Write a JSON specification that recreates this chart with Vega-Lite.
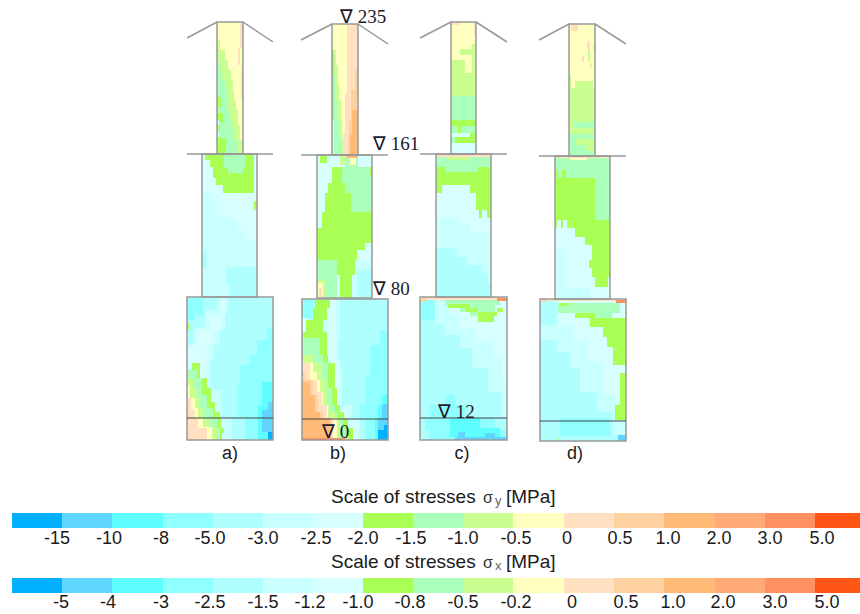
{"$schema":"https://vega.github.io/schema/vega-lite/v6.json","width":860,"height":614,"padding":0,"autosize":{"type":"none"},"background":"white","config":{"view":{"stroke":null}},
"datasets":{
"cells":[
{"x":217,"x2":243,"y":22,"y2":154,"k":11},
{"x":240,"x2":243,"y":22,"y2":48,"k":12},{"x":238,"x2":240,"y":48,"y2":65,"k":12},{"x":241,"x2":243,"y":65,"y2":100,"k":12},
{"x":217,"x2":220,"y":40,"y2":50,"k":10},{"x":217,"x2":225,"y":50,"y2":60,"k":10},{"x":217,"x2":228,"y":60,"y2":70,"k":10},{"x":217,"x2":231,"y":70,"y2":80,"k":10},{"x":217,"x2":233,"y":80,"y2":90,"k":10},{"x":217,"x2":234,"y":90,"y2":100,"k":10},{"x":217,"x2":236,"y":100,"y2":110,"k":10},{"x":217,"x2":238,"y":110,"y2":125,"k":10},{"x":217,"x2":240,"y":125,"y2":140,"k":10},{"x":217,"x2":243,"y":140,"y2":154,"k":10},
{"x":217,"x2":219,"y":60,"y2":70,"k":9},{"x":217,"x2":222,"y":70,"y2":80,"k":9},{"x":217,"x2":225,"y":80,"y2":90,"k":9},{"x":217,"x2":227,"y":90,"y2":100,"k":9},{"x":217,"x2":228,"y":100,"y2":110,"k":9},{"x":217,"x2":230,"y":110,"y2":120,"k":9},{"x":217,"x2":232,"y":120,"y2":130,"k":9},{"x":217,"x2":234,"y":130,"y2":140,"k":9},{"x":217,"x2":238,"y":140,"y2":154,"k":9},
{"x":217,"x2":221,"y":97,"y2":107,"k":8},{"x":217,"x2":223,"y":113,"y2":122,"k":8},{"x":217,"x2":220,"y":125,"y2":130,"k":8},{"x":217,"x2":226,"y":138,"y2":154,"k":8},{"x":217,"x2":219,"y":120,"y2":125,"k":7},{"x":217,"x2":219,"y":133,"y2":136,"k":7},
{"x":332,"x2":347,"y":24,"y2":155,"k":11},{"x":347,"x2":358,"y":24,"y2":155,"k":12},{"x":345,"x2":347,"y":93,"y2":155,"k":12},{"x":343,"x2":345,"y":133,"y2":155,"k":12},
{"x":355,"x2":358,"y":70,"y2":90,"k":13},{"x":351,"x2":358,"y":90,"y2":120,"k":13},{"x":349,"x2":358,"y":120,"y2":155,"k":13},{"x":352,"x2":358,"y":110,"y2":135,"k":14},{"x":350,"x2":357,"y":135,"y2":155,"k":14},
{"x":332,"x2":336,"y":50,"y2":65,"k":10},{"x":332,"x2":338,"y":65,"y2":85,"k":10},{"x":332,"x2":339,"y":85,"y2":100,"k":10},{"x":332,"x2":341,"y":100,"y2":120,"k":10},{"x":332,"x2":342,"y":120,"y2":140,"k":10},{"x":332,"x2":343,"y":140,"y2":155,"k":10},
{"x":332,"x2":336,"y":75,"y2":100,"k":9},{"x":332,"x2":337,"y":100,"y2":120,"k":9},{"x":332,"x2":339,"y":120,"y2":135,"k":9},{"x":332,"x2":341,"y":135,"y2":155,"k":9},
{"x":332,"x2":334,"y":50,"y2":118,"k":8},{"x":332,"x2":334,"y":120,"y2":155,"k":6},
{"x":451,"x2":476,"y":22,"y2":154,"k":11},{"x":451,"x2":460,"y":22,"y2":25,"k":12},{"x":474,"x2":476,"y":22,"y2":35,"k":12},
{"x":460,"x2":472,"y":49,"y2":55,"k":10},{"x":472,"x2":476,"y":44,"y2":49,"k":10},{"x":472,"x2":476,"y":49,"y2":73,"k":10},{"x":451,"x2":465,"y":60,"y2":73,"k":10},{"x":451,"x2":476,"y":73,"y2":96,"k":10},
{"x":451,"x2":476,"y":96,"y2":120,"k":9},{"x":451,"x2":476,"y":120,"y2":126,"k":8},{"x":451,"x2":476,"y":126,"y2":133,"k":9},{"x":458,"x2":461,"y":126,"y2":133,"k":8},{"x":451,"x2":476,"y":133,"y2":137,"k":7},{"x":470,"x2":476,"y":133,"y2":137,"k":8},{"x":451,"x2":455,"y":137,"y2":143,"k":9},{"x":455,"x2":476,"y":137,"y2":143,"k":8},{"x":451,"x2":476,"y":143,"y2":154,"k":7},
{"x":569,"x2":595,"y":24,"y2":156,"k":11},{"x":571,"x2":578,"y":25,"y2":31,"k":12},{"x":587,"x2":590,"y":41,"y2":50,"k":12},{"x":582,"x2":584,"y":56,"y2":62,"k":12},{"x":590,"x2":592,"y":63,"y2":68,"k":12},{"x":588,"x2":590,"y":50,"y2":62,"k":10},{"x":593,"x2":595,"y":45,"y2":50,"k":10},
{"x":575,"x2":593,"y":81,"y2":88,"k":10},{"x":569,"x2":571,"y":75,"y2":88,"k":10},{"x":569,"x2":595,"y":88,"y2":156,"k":10},
{"x":574,"x2":595,"y":122,"y2":128,"k":9},{"x":570,"x2":595,"y":134,"y2":139,"k":9},{"x":570,"x2":575,"y":139,"y2":146,"k":9},{"x":570,"x2":585,"y":145,"y2":151,"k":9},{"x":570,"x2":595,"y":151,"y2":156,"k":9},

{"x":202,"x2":257,"y":154,"y2":297,"k":6},
{"x":202,"x2":213,"y":154,"y2":193,"k":7},{"x":213,"x2":217,"y":154,"y2":200,"k":7},{"x":217,"x2":230,"y":154,"y2":216,"k":7},{"x":230,"x2":237,"y":154,"y2":220,"k":7},{"x":237,"x2":245,"y":154,"y2":230,"k":7},{"x":245,"x2":257,"y":154,"y2":240,"k":7},
{"x":226,"x2":257,"y":267,"y2":284,"k":5},{"x":230,"x2":257,"y":284,"y2":297,"k":5},{"x":202,"x2":207,"y":250,"y2":267,"k":5},
{"x":205,"x2":254,"y":154,"y2":160,"k":8},{"x":210,"x2":254,"y":160,"y2":167,"k":8},{"x":213,"x2":254,"y":167,"y2":178,"k":8},{"x":216,"x2":254,"y":178,"y2":185,"k":8},{"x":223,"x2":254,"y":185,"y2":193,"k":8},{"x":224,"x2":245,"y":154,"y2":168,"k":9},{"x":228,"x2":243,"y":168,"y2":173,"k":9},{"x":254,"x2":257,"y":201,"y2":210,"k":8},

{"x":317,"x2":372,"y":155,"y2":298,"k":7},
{"x":352,"x2":372,"y":260,"y2":298,"k":6},{"x":357,"x2":372,"y":270,"y2":298,"k":5},
{"x":342,"x2":372,"y":167,"y2":212,"k":9},{"x":345,"x2":358,"y":155,"y2":167,"k":9},{"x":340,"x2":345,"y":155,"y2":165,"k":10},{"x":346,"x2":358,"y":155,"y2":158,"k":14},{"x":350,"x2":356,"y":158,"y2":165,"k":11},{"x":370,"x2":372,"y":167,"y2":175,"k":8},{"x":320,"x2":327,"y":156,"y2":163,"k":8},
{"x":332,"x2":342,"y":167,"y2":183,"k":8},{"x":328,"x2":345,"y":183,"y2":193,"k":8},{"x":325,"x2":351,"y":193,"y2":212,"k":8},{"x":322,"x2":372,"y":212,"y2":228,"k":8},{"x":317,"x2":372,"y":228,"y2":243,"k":8},{"x":317,"x2":365,"y":243,"y2":250,"k":8},{"x":317,"x2":357,"y":250,"y2":260,"k":8},{"x":337,"x2":355,"y":260,"y2":275,"k":8},{"x":340,"x2":352,"y":275,"y2":298,"k":8},
{"x":317,"x2":337,"y":260,"y2":298,"k":9},{"x":317,"x2":325,"y":280,"y2":298,"k":10},{"x":318,"x2":323,"y":283,"y2":298,"k":11},{"x":319,"x2":322,"y":288,"y2":298,"k":12},

{"x":436,"x2":491,"y":154,"y2":297,"k":5},
{"x":436,"x2":455,"y":185,"y2":248,"k":6},{"x":455,"x2":457,"y":185,"y2":250,"k":6},{"x":457,"x2":467,"y":185,"y2":257,"k":6},{"x":467,"x2":482,"y":185,"y2":265,"k":6},{"x":482,"x2":488,"y":185,"y2":273,"k":6},{"x":488,"x2":491,"y":185,"y2":283,"k":6},
{"x":436,"x2":460,"y":185,"y2":218,"k":7},{"x":460,"x2":470,"y":185,"y2":225,"k":7},{"x":470,"x2":491,"y":185,"y2":233,"k":7},
{"x":436,"x2":491,"y":167,"y2":185,"k":8},{"x":436,"x2":442,"y":185,"y2":193,"k":8},{"x":470,"x2":491,"y":185,"y2":193,"k":8},{"x":476,"x2":491,"y":193,"y2":210,"k":8},{"x":479,"x2":482,"y":210,"y2":218,"k":8},{"x":487,"x2":491,"y":210,"y2":218,"k":8},
{"x":437,"x2":490,"y":157,"y2":167,"k":9},{"x":445,"x2":478,"y":167,"y2":172,"k":9},{"x":447,"x2":470,"y":156,"y2":160,"k":10},{"x":436,"x2":491,"y":154,"y2":157,"k":12},

{"x":555,"x2":610,"y":156,"y2":299,"k":7},
{"x":557,"x2":565,"y":250,"y2":298,"k":6},{"x":560,"x2":590,"y":288,"y2":299,"k":6},
{"x":556,"x2":610,"y":158,"y2":178,"k":9},{"x":595,"x2":610,"y":178,"y2":220,"k":9},
{"x":556,"x2":558,"y":170,"y2":178,"k":8},{"x":562,"x2":566,"y":170,"y2":178,"k":8},{"x":566,"x2":585,"y":178,"y2":179,"k":8},
{"x":556,"x2":595,"y":178,"y2":220,"k":8},{"x":556,"x2":610,"y":220,"y2":228,"k":8},{"x":575,"x2":610,"y":228,"y2":237,"k":8},{"x":585,"x2":610,"y":237,"y2":245,"k":8},{"x":592,"x2":610,"y":245,"y2":260,"k":8},{"x":589,"x2":610,"y":260,"y2":268,"k":8},{"x":592,"x2":610,"y":268,"y2":277,"k":8},{"x":595,"x2":608,"y":277,"y2":287,"k":8},
{"x":557,"x2":561,"y":220,"y2":228,"k":7},{"x":563,"x2":567,"y":220,"y2":228,"k":7},
{"x":555,"x2":610,"y":156,"y2":158,"k":12},{"x":570,"x2":587,"y":158,"y2":160,"k":11},

{"x":187,"x2":273,"y":297,"y2":440,"k":5},
{"x":187,"x2":203,"y":297,"y2":315,"k":4},{"x":187,"x2":195,"y":315,"y2":320,"k":4},
{"x":218,"x2":228,"y":297,"y2":310,"k":6},{"x":205,"x2":225,"y":310,"y2":328,"k":6},{"x":194,"x2":220,"y":328,"y2":345,"k":6},{"x":188,"x2":214,"y":345,"y2":360,"k":6},{"x":187,"x2":210,"y":360,"y2":390,"k":6},{"x":205,"x2":222,"y":390,"y2":418,"k":6},{"x":215,"x2":232,"y":418,"y2":440,"k":6},
{"x":222,"x2":226,"y":297,"y2":315,"k":7},{"x":210,"x2":222,"y":315,"y2":330,"k":7},{"x":197,"x2":213,"y":330,"y2":345,"k":7},{"x":188,"x2":207,"y":345,"y2":365,"k":7},{"x":197,"x2":205,"y":365,"y2":395,"k":7},{"x":187,"x2":189,"y":323,"y2":330,"k":8},
{"x":267,"x2":273,"y":328,"y2":340,"k":4},{"x":257,"x2":273,"y":340,"y2":355,"k":4},{"x":250,"x2":273,"y":355,"y2":365,"k":4},{"x":240,"x2":273,"y":365,"y2":385,"k":4},{"x":238,"x2":273,"y":385,"y2":418,"k":4},{"x":245,"x2":273,"y":418,"y2":440,"k":4},
{"x":262,"x2":273,"y":382,"y2":405,"k":3},{"x":258,"x2":273,"y":405,"y2":440,"k":3},{"x":268,"x2":273,"y":402,"y2":410,"k":2},{"x":262,"x2":273,"y":410,"y2":432,"k":2},{"x":268,"x2":273,"y":432,"y2":440,"k":1},
{"x":192,"x2":200,"y":363,"y2":378,"k":8},{"x":187,"x2":207,"y":378,"y2":388,"k":8},{"x":187,"x2":211,"y":388,"y2":402,"k":8},{"x":187,"x2":215,"y":402,"y2":412,"k":8},{"x":187,"x2":220,"y":412,"y2":418,"k":8},{"x":187,"x2":221,"y":418,"y2":428,"k":8},{"x":187,"x2":224,"y":428,"y2":433,"k":8},{"x":187,"x2":222,"y":433,"y2":440,"k":8},
{"x":187,"x2":197,"y":370,"y2":378,"k":9},{"x":187,"x2":202,"y":378,"y2":395,"k":9},{"x":187,"x2":207,"y":395,"y2":408,"k":9},{"x":187,"x2":213,"y":408,"y2":418,"k":9},{"x":187,"x2":217,"y":418,"y2":428,"k":9},{"x":187,"x2":220,"y":428,"y2":440,"k":9},
{"x":187,"x2":193,"y":378,"y2":388,"k":10},{"x":187,"x2":197,"y":388,"y2":398,"k":10},{"x":187,"x2":200,"y":398,"y2":408,"k":10},{"x":187,"x2":204,"y":408,"y2":418,"k":10},{"x":187,"x2":210,"y":418,"y2":428,"k":10},{"x":187,"x2":217,"y":428,"y2":440,"k":10},
{"x":187,"x2":190,"y":385,"y2":398,"k":11},{"x":187,"x2":195,"y":398,"y2":408,"k":11},{"x":187,"x2":198,"y":408,"y2":418,"k":11},{"x":187,"x2":203,"y":418,"y2":427,"k":11},{"x":187,"x2":212,"y":427,"y2":440,"k":11},
{"x":187,"x2":191,"y":398,"y2":410,"k":12},{"x":187,"x2":195,"y":410,"y2":418,"k":12},{"x":187,"x2":198,"y":418,"y2":428,"k":12},{"x":187,"x2":207,"y":428,"y2":440,"k":12},

{"x":302,"x2":388,"y":299,"y2":440,"k":5},
{"x":302,"x2":313,"y":299,"y2":318,"k":4},{"x":302,"x2":307,"y":318,"y2":340,"k":7},
{"x":320,"x2":340,"y":299,"y2":340,"k":6},{"x":322,"x2":338,"y":340,"y2":370,"k":6},{"x":330,"x2":342,"y":370,"y2":405,"k":6},{"x":343,"x2":352,"y":405,"y2":420,"k":6},{"x":345,"x2":360,"y":420,"y2":440,"k":6},
{"x":328,"x2":335,"y":300,"y2":360,"k":7},{"x":332,"x2":340,"y":360,"y2":410,"k":7},{"x":340,"x2":348,"y":410,"y2":420,"k":7},{"x":350,"x2":358,"y":420,"y2":440,"k":7},
{"x":380,"x2":388,"y":330,"y2":345,"k":4},{"x":370,"x2":388,"y":345,"y2":375,"k":4},{"x":365,"x2":388,"y":375,"y2":405,"k":4},{"x":360,"x2":388,"y":405,"y2":418,"k":4},{"x":365,"x2":388,"y":418,"y2":440,"k":4},
{"x":382,"x2":388,"y":395,"y2":405,"k":3},{"x":378,"x2":388,"y":405,"y2":418,"k":3},{"x":375,"x2":388,"y":418,"y2":440,"k":3},
{"x":382,"x2":388,"y":404,"y2":418,"k":2},{"x":378,"x2":388,"y":418,"y2":440,"k":2},{"x":384,"x2":388,"y":425,"y2":430,"k":1},{"x":378,"x2":388,"y":430,"y2":440,"k":1},
{"x":315,"x2":330,"y":300,"y2":308,"k":8},{"x":313,"x2":327,"y":308,"y2":320,"k":8},{"x":306,"x2":323,"y":320,"y2":332,"k":8},{"x":302,"x2":327,"y":332,"y2":355,"k":8},{"x":302,"x2":328,"y":355,"y2":363,"k":8},{"x":302,"x2":335,"y":363,"y2":388,"k":8},{"x":302,"x2":337,"y":388,"y2":405,"k":8},{"x":302,"x2":340,"y":405,"y2":412,"k":8},{"x":302,"x2":344,"y":412,"y2":418,"k":8},{"x":302,"x2":348,"y":418,"y2":428,"k":8},{"x":302,"x2":353,"y":428,"y2":440,"k":8},
{"x":302,"x2":320,"y":338,"y2":355,"k":9},{"x":302,"x2":323,"y":355,"y2":363,"k":9},{"x":302,"x2":328,"y":363,"y2":388,"k":9},{"x":302,"x2":332,"y":388,"y2":405,"k":9},{"x":302,"x2":335,"y":405,"y2":412,"k":9},{"x":302,"x2":337,"y":412,"y2":418,"k":9},{"x":302,"x2":343,"y":418,"y2":428,"k":9},{"x":302,"x2":348,"y":428,"y2":440,"k":9},
{"x":302,"x2":313,"y":355,"y2":363,"k":10},{"x":302,"x2":322,"y":363,"y2":378,"k":10},{"x":302,"x2":325,"y":378,"y2":388,"k":10},{"x":302,"x2":327,"y":388,"y2":405,"k":10},{"x":302,"x2":330,"y":405,"y2":412,"k":10},{"x":302,"x2":335,"y":412,"y2":418,"k":10},{"x":302,"x2":340,"y":418,"y2":440,"k":10},
{"x":302,"x2":313,"y":363,"y2":372,"k":11},{"x":302,"x2":317,"y":372,"y2":380,"k":11},{"x":302,"x2":320,"y":380,"y2":392,"k":11},{"x":302,"x2":323,"y":392,"y2":405,"k":11},{"x":302,"x2":328,"y":405,"y2":418,"k":11},{"x":302,"x2":337,"y":418,"y2":440,"k":11},
{"x":302,"x2":310,"y":363,"y2":380,"k":12},{"x":302,"x2":317,"y":380,"y2":392,"k":12},{"x":302,"x2":322,"y":392,"y2":405,"k":12},{"x":302,"x2":327,"y":405,"y2":418,"k":12},{"x":302,"x2":333,"y":418,"y2":440,"k":12},
{"x":302,"x2":305,"y":372,"y2":380,"k":13},{"x":302,"x2":313,"y":380,"y2":395,"k":13},{"x":302,"x2":318,"y":395,"y2":412,"k":13},{"x":302,"x2":323,"y":412,"y2":418,"k":13},{"x":302,"x2":332,"y":418,"y2":440,"k":13},
{"x":302,"x2":310,"y":382,"y2":395,"k":14},{"x":302,"x2":315,"y":395,"y2":412,"k":14},{"x":302,"x2":320,"y":412,"y2":418,"k":14},{"x":302,"x2":330,"y":418,"y2":438,"k":14},{"x":302,"x2":345,"y":438,"y2":440,"k":16},

{"x":420,"x2":507,"y":297,"y2":440,"k":5},
{"x":420,"x2":435,"y":300,"y2":320,"k":4},{"x":435,"x2":445,"y":300,"y2":325,"k":6},{"x":445,"x2":460,"y":300,"y2":335,"k":6},{"x":460,"x2":472,"y":300,"y2":348,"k":6},{"x":472,"x2":488,"y":300,"y2":368,"k":6},{"x":488,"x2":502,"y":300,"y2":392,"k":6},{"x":502,"x2":507,"y":300,"y2":418,"k":6},
{"x":450,"x2":460,"y":300,"y2":315,"k":7},{"x":460,"x2":475,"y":300,"y2":328,"k":7},{"x":475,"x2":493,"y":300,"y2":342,"k":7},{"x":493,"x2":502,"y":300,"y2":358,"k":7},{"x":502,"x2":507,"y":300,"y2":378,"k":7},
{"x":445,"x2":500,"y":300,"y2":305,"k":9},{"x":460,"x2":495,"y":305,"y2":312,"k":9},{"x":470,"x2":490,"y":312,"y2":316,"k":9},
{"x":448,"x2":470,"y":304,"y2":308,"k":8},{"x":465,"x2":478,"y":308,"y2":312,"k":8},{"x":478,"x2":497,"y":312,"y2":316,"k":8},{"x":478,"x2":494,"y":316,"y2":322,"k":8},{"x":497,"x2":503,"y":308,"y2":312,"k":8},
{"x":420,"x2":507,"y":297,"y2":300,"k":12},{"x":422,"x2":426,"y":298,"y2":302,"k":13},{"x":497,"x2":507,"y":298,"y2":301,"k":16},
{"x":445,"x2":455,"y":395,"y2":405,"k":4},{"x":430,"x2":465,"y":405,"y2":418,"k":4},{"x":425,"x2":495,"y":418,"y2":430,"k":4},{"x":430,"x2":507,"y":430,"y2":440,"k":4},
{"x":450,"x2":480,"y":418,"y2":428,"k":3},{"x":450,"x2":500,"y":428,"y2":437,"k":3},
{"x":458,"x2":465,"y":432,"y2":440,"k":2},{"x":485,"x2":495,"y":433,"y2":440,"k":2},{"x":455,"x2":507,"y":437,"y2":440,"k":2},

{"x":540,"x2":626,"y":299,"y2":441,"k":5},
{"x":540,"x2":557,"y":325,"y2":340,"k":6},{"x":557,"x2":570,"y":300,"y2":352,"k":6},{"x":570,"x2":580,"y":300,"y2":368,"k":6},{"x":580,"x2":597,"y":300,"y2":392,"k":6},{"x":597,"x2":613,"y":300,"y2":412,"k":6},{"x":613,"x2":626,"y":300,"y2":435,"k":6},
{"x":557,"x2":573,"y":300,"y2":325,"k":7},{"x":573,"x2":587,"y":300,"y2":340,"k":7},{"x":587,"x2":603,"y":300,"y2":362,"k":7},{"x":603,"x2":616,"y":300,"y2":395,"k":7},{"x":616,"x2":626,"y":300,"y2":418,"k":7},
{"x":558,"x2":620,"y":303,"y2":313,"k":9},{"x":590,"x2":612,"y":313,"y2":318,"k":9},
{"x":575,"x2":595,"y":313,"y2":318,"k":8},{"x":590,"x2":626,"y":318,"y2":327,"k":8},{"x":603,"x2":626,"y":327,"y2":337,"k":8},{"x":607,"x2":626,"y":337,"y2":347,"k":8},{"x":613,"x2":626,"y":347,"y2":365,"k":8},{"x":620,"x2":626,"y":373,"y2":405,"k":8},{"x":615,"x2":626,"y":405,"y2":420,"k":8},{"x":560,"x2":567,"y":303,"y2":306,"k":8},
{"x":540,"x2":626,"y":299,"y2":301,"k":12},{"x":542,"x2":546,"y":299,"y2":302,"k":13},{"x":616,"x2":626,"y":300,"y2":303,"k":16},
{"x":560,"x2":610,"y":418,"y2":436,"k":4},{"x":570,"x2":595,"y":425,"y2":435,"k":4},{"x":618,"x2":626,"y":435,"y2":441,"k":2},{"x":557,"x2":560,"y":438,"y2":441,"k":10},

{"x":12,"x2":62,"y":513,"y2":528,"k":1},{"x":62,"x2":112,"y":513,"y2":528,"k":2},{"x":112,"x2":163,"y":513,"y2":528,"k":3},{"x":163,"x2":213,"y":513,"y2":528,"k":4},{"x":213,"x2":263,"y":513,"y2":528,"k":5},{"x":263,"x2":313,"y":513,"y2":528,"k":6},{"x":313,"x2":363,"y":513,"y2":528,"k":7},{"x":363,"x2":413,"y":513,"y2":528,"k":8},{"x":413,"x2":464,"y":513,"y2":528,"k":9},{"x":464,"x2":513,"y":513,"y2":528,"k":10},{"x":513,"x2":564,"y":513,"y2":528,"k":11},{"x":564,"x2":614,"y":513,"y2":528,"k":12},{"x":614,"x2":664,"y":513,"y2":528,"k":13},{"x":664,"x2":715,"y":513,"y2":528,"k":14},{"x":715,"x2":765,"y":513,"y2":528,"k":15},{"x":765,"x2":815,"y":513,"y2":528,"k":16},{"x":815,"x2":860,"y":513,"y2":528,"k":17},
{"x":12,"x2":62,"y":578,"y2":593,"k":1},{"x":62,"x2":112,"y":578,"y2":593,"k":2},{"x":112,"x2":163,"y":578,"y2":593,"k":3},{"x":163,"x2":213,"y":578,"y2":593,"k":4},{"x":213,"x2":263,"y":578,"y2":593,"k":5},{"x":263,"x2":313,"y":578,"y2":593,"k":6},{"x":313,"x2":363,"y":578,"y2":593,"k":7},{"x":363,"x2":413,"y":578,"y2":593,"k":8},{"x":413,"x2":464,"y":578,"y2":593,"k":9},{"x":464,"x2":513,"y":578,"y2":593,"k":10},{"x":513,"x2":564,"y":578,"y2":593,"k":11},{"x":564,"x2":614,"y":578,"y2":593,"k":12},{"x":614,"x2":664,"y":578,"y2":593,"k":13},{"x":664,"x2":715,"y":578,"y2":593,"k":14},{"x":715,"x2":765,"y":578,"y2":593,"k":15},{"x":765,"x2":815,"y":578,"y2":593,"k":16},{"x":815,"x2":860,"y":578,"y2":593,"k":17}
],
"outlines":[
{"x":217,"x2":243,"y":22,"y2":154},{"x":202,"x2":257,"y":154,"y2":297},{"x":187,"x2":273,"y":297,"y2":440},
{"x":332,"x2":358,"y":24,"y2":155},{"x":317,"x2":372,"y":155,"y2":298},{"x":302,"x2":388,"y":299,"y2":440},
{"x":451,"x2":476,"y":22,"y2":154},{"x":436,"x2":491,"y":154,"y2":297},{"x":420,"x2":507,"y":297,"y2":440},
{"x":569,"x2":595,"y":24,"y2":156},{"x":555,"x2":610,"y":156,"y2":299},{"x":540,"x2":626,"y":299,"y2":441}
],
"gray":[
{"x":187,"x2":217,"y":38,"y2":22},{"x":243,"x2":273,"y":22,"y2":42},{"x":187,"x2":273,"y":154,"y2":154},
{"x":301,"x2":332,"y":40,"y2":24},{"x":358,"x2":388,"y":24,"y2":44},{"x":301,"x2":388,"y":155,"y2":155},
{"x":420,"x2":451,"y":38,"y2":22},{"x":476,"x2":507,"y":22,"y2":42},{"x":420,"x2":507,"y":154,"y2":154},
{"x":539,"x2":569,"y":40,"y2":24},{"x":595,"x2":626,"y":24,"y2":44},{"x":539,"x2":626,"y":156,"y2":156}
],
"dark":[
{"x":187,"x2":273,"y":418,"y2":418},{"x":302,"x2":388,"y":419,"y2":419},{"x":420,"x2":507,"y":418,"y2":418},{"x":540,"x2":626,"y":421,"y2":421}
],
"ticks":[
{"x":57,"y":539,"t":"-15"},{"x":109,"y":539,"t":"-10"},{"x":161,"y":539,"t":"-8"},{"x":210,"y":539,"t":"-5.0"},{"x":263,"y":539,"t":"-3.0"},{"x":316,"y":539,"t":"-2.5"},{"x":363,"y":539,"t":"-2.0"},{"x":411,"y":539,"t":"-1.5"},{"x":463,"y":539,"t":"-1.0"},{"x":516,"y":539,"t":"-0.5"},{"x":567,"y":539,"t":"0"},{"x":620,"y":539,"t":"0.5"},{"x":668,"y":539,"t":"1.0"},{"x":719,"y":539,"t":"2.0"},{"x":770,"y":539,"t":"3.0"},{"x":822,"y":539,"t":"5.0"},
{"x":61,"y":603,"t":"-5"},{"x":108,"y":603,"t":"-4"},{"x":161,"y":603,"t":"-3"},{"x":210,"y":603,"t":"-2.5"},{"x":263,"y":603,"t":"-1.5"},{"x":310,"y":603,"t":"-1.2"},{"x":358,"y":603,"t":"-1.0"},{"x":410,"y":603,"t":"-0.8"},{"x":463,"y":603,"t":"-0.5"},{"x":516,"y":603,"t":"-0.2"},{"x":572,"y":603,"t":"0"},{"x":626,"y":603,"t":"0.5"},{"x":673,"y":603,"t":"1.0"},{"x":723,"y":603,"t":"2.0"},{"x":775,"y":603,"t":"3.0"},{"x":827,"y":603,"t":"5.0"},
{"x":230,"y":454,"t":"a)"},{"x":338,"y":454,"t":"b)"},{"x":462,"y":454,"t":"c)"},{"x":575,"y":454,"t":"d)"}
],
"titles":[
{"x":331,"y":497,"t":"Scale of stresses"},{"x":506,"y":497,"t":"[MPa]"},{"x":331,"y":562,"t":"Scale of stresses"},{"x":506,"y":562,"t":"[MPa]"}
],
"sigma":[{"x":483,"y":498,"t":"σ"},{"x":483,"y":563,"t":"σ"}],
"subs":[{"x":495,"y":501,"t":"y"},{"x":495,"y":566,"t":"x"}],
"levels":[
{"x":340,"y":17,"t":"∇ 235"},{"x":373,"y":144,"t":"∇ 161"},{"x":373,"y":289,"t":"∇ 80"},{"x":322,"y":432,"t":"∇ 0"},{"x":438,"y":412,"t":"∇ 12"}
]},
"encoding":{
"x":{"field":"x","type":"quantitative","scale":{"domain":[0,860],"nice":false,"zero":false},"axis":null},
"y":{"field":"y","type":"quantitative","scale":{"domain":[614,0],"nice":false,"zero":false},"axis":null}
},
"layer":[
{"data":{"name":"cells"},"mark":{"type":"rect"},"encoding":{"x2":{"field":"x2"},"y2":{"field":"y2"},"color":{"field":"k","type":"ordinal","legend":null,"scale":{"domain":[1,2,3,4,5,6,7,8,9,10,11,12,13,14,15,16,17],"range":["#00B0FF","#60D5FF","#60FFFF","#90FFFF","#B0FFFF","#C8FFFF","#D8FFFF","#AAFF55","#AAFFBB","#C8FF90","#FFFFC0","#FFE0C0","#FFD0A0","#FFBB77","#FFAA77","#FF9060","#FF5515"]}}}},
{"data":{"name":"outlines"},"mark":{"type":"rect","fill":null,"stroke":"#999999","strokeWidth":1.5},"encoding":{"x2":{"field":"x2"},"y2":{"field":"y2"}}},
{"data":{"name":"gray"},"mark":{"type":"rule","color":"#999999","strokeWidth":1.5},"encoding":{"x2":{"field":"x2"},"y2":{"field":"y2"}}},
{"data":{"name":"dark"},"mark":{"type":"rule","color":"#444444","strokeWidth":1},"encoding":{"x2":{"field":"x2"},"y2":{"field":"y2"}}},
{"data":{"name":"ticks"},"mark":{"type":"text","font":"Liberation Sans","fontSize":18,"align":"center","baseline":"middle","color":"#1a1a1a"},"encoding":{"text":{"field":"t"}}},
{"data":{"name":"titles"},"mark":{"type":"text","font":"Liberation Sans","fontSize":19,"align":"left","baseline":"middle","color":"#1a1a1a"},"encoding":{"text":{"field":"t"}}},
{"data":{"name":"sigma"},"mark":{"type":"text","font":"Liberation Sans","fontSize":16,"align":"left","baseline":"middle","color":"#333333"},"encoding":{"text":{"field":"t"}}},
{"data":{"name":"subs"},"mark":{"type":"text","font":"Liberation Sans","fontSize":13,"align":"left","baseline":"middle","color":"#666666"},"encoding":{"text":{"field":"t"}}},
{"data":{"name":"levels"},"mark":{"type":"text","font":"Liberation Serif","fontSize":19,"align":"left","baseline":"middle","color":"#1a1a2a"},"encoding":{"text":{"field":"t"}}}
]}
